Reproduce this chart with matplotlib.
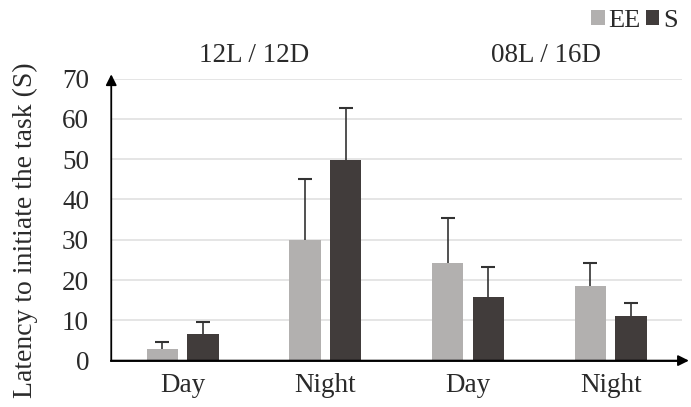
import matplotlib.pyplot as plt
import numpy as np

plt.rcParams['font.family'] = ['Liberation Serif', 'DejaVu Serif']

# data
categories = ['Day', 'Night', 'Day', 'Night']
photoperiods = ['12L / 12D', '08L / 16D']
ee_mean = [3.0, 30.0, 24.3, 18.6]
ee_err = [1.7, 15.0, 11.0, 5.7]
s_mean = [6.6, 49.7, 15.8, 11.0]
s_err = [3.0, 13.0, 7.5, 3.4]

ee_col = '#b2b0af'
s_col = '#413c3b'
txt = '#2a2a2a'

fig = plt.figure(figsize=(6.91, 4.07), dpi=100)
ax = fig.add_axes([0.161, 0.114, 0.826, 0.693])

x = np.arange(len(categories))
w = 0.22
off = 0.142

ax.bar(x - off, ee_mean, w, color=ee_col, label='EE', zorder=3)
ax.bar(x + off, s_mean, w, color=s_col, label='S', zorder=3)
for pos, m, e in [(x - off, ee_mean, ee_err), (x + off, s_mean, s_err)]:
    eb = ax.errorbar(pos, m, yerr=[np.zeros(4), e], fmt='none',
                     ecolor='#333333', elinewidth=1.2, capsize=5, capthick=1.5, zorder=4)
    eb[1][0].set_visible(False)  # only the upper cap

ax.set_xlim(-0.5, 3.5)
ax.set_ylim(0, 70)
ax.set_yticks(range(0, 71, 10))
ax.set_xticks(x)
ax.set_xticklabels(categories)
ax.tick_params(axis='both', length=0, labelsize=19.5, colors=txt)
ax.tick_params(axis='y', pad=16)
ax.tick_params(axis='x', pad=9)
ax.yaxis.grid(True, color='#e0e0e0', linewidth=1.2, zorder=0)

for sp in ax.spines.values():
    sp.set_visible(False)

# axes with arrow heads
ax.annotate('', xy=(0, 1.015), xytext=(0, 0), xycoords='axes fraction',
            arrowprops=dict(arrowstyle='-|>', color='black', lw=1.3,
                            mutation_scale=16, shrinkA=0, shrinkB=0))
ax.annotate('', xy=(1.012, 0), xytext=(0, 0), xycoords='axes fraction',
            arrowprops=dict(arrowstyle='-|>', color='black', lw=1.3,
                            mutation_scale=16, shrinkA=0, shrinkB=0))
ax.plot([0, 1], [0, 0], transform=ax.transAxes, color='black', lw=1.3,
        clip_on=False, zorder=5)

ax.set_ylabel('Latency to initiate the task (S)', fontsize=20, color=txt)
ax.yaxis.set_label_coords(-0.128, 0.463)

# photoperiod headers
ax.text(0.5, 75.8, photoperiods[0], ha='center', va='center', fontsize=19.5,
        color=txt)
ax.text(2.55, 75.8, photoperiods[1], ha='center', va='center', fontsize=19.5,
        color=txt)

fig.legend(loc='center left', bbox_to_anchor=(0.856, 0.948), ncol=2, frameon=False,
           fontsize=19, handlelength=0.5, handleheight=0.5, handletextpad=0.15,
           columnspacing=0.2, labelcolor=txt, borderaxespad=0, borderpad=0)

fig.savefig('out.png', dpi=100)
